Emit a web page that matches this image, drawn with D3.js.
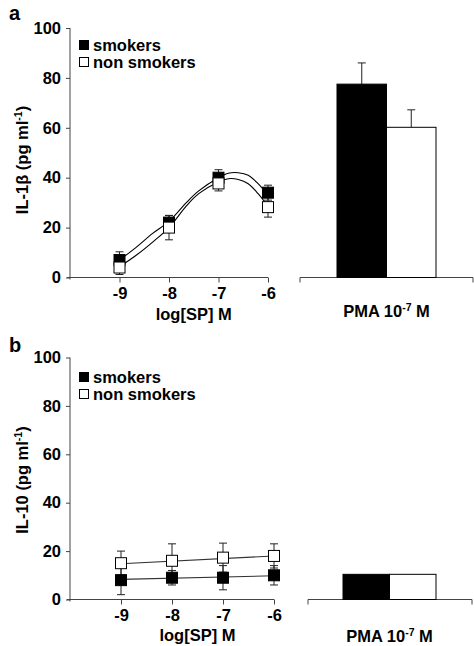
<!DOCTYPE html>
<html><head><meta charset="utf-8">
<script src="https://cdn.jsdelivr.net/npm/d3@7"></script>
<style>body{margin:0;background:#fff}svg{display:block}text{font-family:"Liberation Sans",Arial,sans-serif;font-weight:bold;fill:#000}</style>
</head><body>
<svg id="c" width="474" height="646"></svg>
<script>
// ---------- data ----------
const doses = [-9, -8, -7, -6];
const xTickLabels = ["-9", "-8", "-7", "-6"];
const yTicks = [0, 20, 40, 60, 80, 100];
const seriesNames = ["smokers", "non smokers"];

// panel a: IL-1beta
const il1bSmokers = [7, 22, 40, 34];
const il1bSmokersErr = [3.3, 2.8, 3.2, 3];
const il1bNon = [4, 20, 37.7, 28.2];
const il1bNonErr = [2.8, 4.9, 3, 4];
const il1bFitX = [-9, -8.67, -8.33, -8, -7.64, -7.4, -7, -6.8, -6.6, -6.4, -6.2, -6];
const il1bFitSmokers = [7, 12, 17.7, 22.5, 30.2, 34.7, 40, 41.8, 42, 41, 37.6, 33];
const il1bFitNon = [4.3, 8.8, 14.2, 20, 28.9, 33.6, 38.3, 39.6, 39.3, 37.6, 33.6, 28.5];
const il1bPMA = [77.5, 60.2];
const il1bPMAErr = [8.5, 7];

// panel b: IL-10
const il10Smokers = [8, 9, 9, 10];
const il10SmokersErr = [6, 3, 5, 4];
const il10Non = [15, 16, 17.3, 18];
const il10NonErr = [5, 7, 6, 5];
const il10FitX = [-9, -6];
const il10FitSmokers = [8.3, 9.8];
const il10FitNon = [14.8, 18];
const il10PMA = [10.4, 10.4];
const il10PMAErr = [0, 0];

const svg = d3.select("#c");
const axisCol = "#444";
const FS = 16.5;

function panel(o) {
  const g = svg.append("g");
  const x = d3.scaleLinear().domain([-10, -6]).range([70, o.xr]);
  const y = d3.scaleLinear().domain([0, 100]).range([o.y0, o.y100]);

  // y axis
  const ya = g.append("g").attr("transform", `translate(70,0)`)
    .call(d3.axisLeft(y).tickValues(yTicks).tickSize(4).tickPadding(5).tickFormat(d3.format("d")));
  ya.select(".domain").attr("d", `M0,${o.y100}V${o.y0 + 2}`).attr("stroke", axisCol);
  ya.selectAll(".tick line").attr("stroke", axisCol);
  ya.selectAll("text").attr("font-size", FS).style("font-family", '"Liberation Sans",Arial,sans-serif').style("font-weight", "bold");

  // x axis
  const xa = g.append("g").attr("transform", `translate(0,${o.y0})`)
    .call(d3.axisBottom(x).tickValues(doses).tickSize(5).tickPadding(5).tickFormat((d, i) => xTickLabels[i]));
  xa.select(".domain").attr("d", `M67,0H${o.xr}`).attr("stroke", axisCol);
  xa.selectAll(".tick line").attr("stroke", axisCol);
  xa.selectAll("text").attr("font-size", FS).style("font-family", '"Liberation Sans",Arial,sans-serif').style("font-weight", "bold");

  g.append("text").attr("x", x(-7.5)).attr("y", o.xtitleY).attr("text-anchor", "middle")
    .attr("font-size", FS).text("log[SP] M");

  // y title
  const yt = g.append("text").attr("transform", `translate(28,${o.ytitleY}) rotate(-90)`)
    .attr("text-anchor", "middle").attr("font-size", FS);
  yt.append("tspan").text(o.ytitle + " (pg ml");
  yt.append("tspan").attr("font-size", 10.5).attr("dy", -6).text("-1");
  yt.append("tspan").attr("dy", 6).text(")");

  // panel letter
  g.append("text").attr("x", 9).attr("y", o.letterY).attr("font-size", 20).text(o.letter);

  // fitted lines
  const line = d3.line().x(d => x(d[0])).y(d => y(d[1])).curve(d3.curveCatmullRom.alpha(0.5));
  [o.fitS, o.fitN].forEach(f => {
    g.append("path").datum(o.fitX.map((v, i) => [v, f[i]]))
      .attr("d", line).attr("fill", "none").attr("stroke", o.lineCol).attr("stroke-width", 1.1);
  });

  // error bars
  const series = [
    { v: o.s, e: o.se, fill: "#000" },
    { v: o.n, e: o.ne, fill: "#fff" }
  ];
  series.forEach(s => {
    doses.forEach((d, i) => {
      const cx = x(d);
      const lo = y(s.v[i] - s.e[i]), hi = y(s.v[i] + s.e[i]);
      g.append("line").attr("x1", cx).attr("x2", cx).attr("y1", lo).attr("y2", hi).attr("stroke", "#222");
      [lo, hi].forEach(yy => g.append("line").attr("x1", cx - 4).attr("x2", cx + 4)
        .attr("y1", yy).attr("y2", yy).attr("stroke", "#222"));
    });
  });
  // markers
  series.forEach(s => {
    doses.forEach((d, i) => {
      g.append("rect").attr("x", x(d) - 5.5).attr("y", y(s.v[i]) - 5.5)
        .attr("width", 11).attr("height", 11).attr("fill", s.fill)
        .attr("stroke", "#000").attr("stroke-width", 1);
    });
  });

  // legend
  seriesNames.forEach((nm, i) => {
    const ly = o.legY + i * 17;
    g.append("rect").attr("x", 79.5).attr("y", ly - 10.5).attr("width", 9).attr("height", 9)
      .attr("fill", i === 0 ? "#000" : "#fff").attr("stroke", "#000");
    g.append("text").attr("x", 93).attr("y", ly).attr("font-size", FS).text(nm);
  });

  // PMA bars
  const bx = d3.scaleBand().domain(seriesNames).range([o.barL, o.barR]).padding(0);
  g.append("path").attr("d", `M${o.axL},${o.y0 + 5}V${o.y0}H${o.axR}V${o.y0 + 5}`)
    .attr("fill", "none").attr("stroke", axisCol);
  seriesNames.forEach((nm, i) => {
    const v = o.pma[i];
    if (o.pmaErr[i] > 0) {
      const cx = bx(nm) + bx.bandwidth() / 2;
      g.append("line").attr("x1", cx).attr("x2", cx).attr("y1", y(v)).attr("y2", y(v + o.pmaErr[i])).attr("stroke", "#222");
      g.append("line").attr("x1", cx - 4).attr("x2", cx + 4).attr("y1", y(v + o.pmaErr[i])).attr("y2", y(v + o.pmaErr[i])).attr("stroke", "#222");
    }
    g.append("rect").attr("x", bx(nm)).attr("y", y(v)).attr("width", bx.bandwidth())
      .attr("height", y(0) - y(v)).attr("fill", i === 0 ? "#000" : "#fff")
      .attr("stroke", "#000").attr("stroke-width", 1);
  });
  const pt = g.append("text").attr("x", (o.barL + o.barR) / 2).attr("y", o.pmaY).attr("text-anchor", "middle").attr("font-size", FS);
  pt.append("tspan").text("PMA 10");
  pt.append("tspan").attr("font-size", 10.5).attr("dy", -6).text("-7");
  pt.append("tspan").attr("dy", 6).text(" M");
}

panel({
  xr: 268, y0: 277.5, y100: 28, letter: "a", letterY: 20, ytitle: "IL-1β", ytitleY: 160,
  xtitleY: 320, fitX: il1bFitX, fitS: il1bFitSmokers, fitN: il1bFitNon, lineCol: "#000",
  s: il1bSmokers, se: il1bSmokersErr, n: il1bNon, ne: il1bNonErr, legY: 51,
  pma: il1bPMA, pmaErr: il1bPMAErr, barL: 337, barR: 436, axL: 300, axR: 473, pmaY: 317
});
panel({
  xr: 274, y0: 599.5, y100: 357.5, letter: "b", letterY: 352, ytitle: "IL-10", ytitleY: 480,
  xtitleY: 641, fitX: il10FitX, fitS: il10FitSmokers, fitN: il10FitNon, lineCol: "#333",
  s: il10Smokers, se: il10SmokersErr, n: il10Non, ne: il10NonErr, legY: 383,
  pma: il10PMA, pmaErr: il10PMAErr, barL: 343, barR: 436, axL: 308, axR: 472, pmaY: 642
});
</script>
</body></html>
